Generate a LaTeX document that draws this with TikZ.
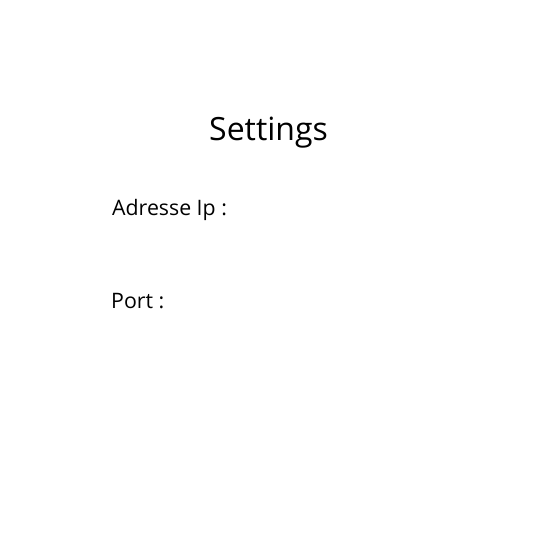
\documentclass[tikz,border=0pt]{standalone}
\usepackage{fontspec}
\setmainfont{Open Sans}
\begin{document}
\begin{tikzpicture}[x=1pt,y=1pt,
  title/.style={anchor=base west,inner sep=0pt,font=\fontsize{32}{38}\selectfont},
  label/.style={anchor=base west,inner sep=0pt,font=\fontsize{21.3}{26}\selectfont}]
\useasboundingbox[fill=white] (0,0) rectangle (540,550);
\node[title] (settings) at (209,409) {Settings};
\node[label] (ip) at (112,334) {Adresse Ip :};
\node[label] (port) at (111,241) {Port :};
\end{tikzpicture}
\end{document}
